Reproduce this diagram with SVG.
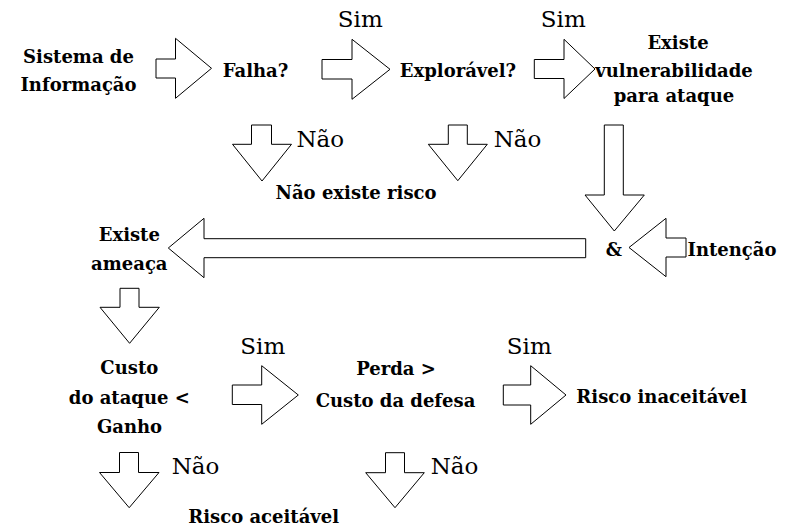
<svg xmlns="http://www.w3.org/2000/svg" width="798" height="532" viewBox="0 0 798 532">
<style>
.n{font-family:"DejaVu Serif","Liberation Serif",serif;font-weight:bold;font-size:18px;fill:#000;text-anchor:middle}
.l{font-family:"DejaVu Serif","Liberation Serif",serif;font-size:23px;fill:#000;text-anchor:middle}
.a{fill:#fff;stroke:#000;stroke-width:1;stroke-linejoin:miter}
</style>
<rect width="798" height="532" fill="#fff"/>
<g id="connectors">
<polygon class="a" points="156,59 175.5,59 175.5,38.3 211.5,68.3 175.5,98.3 175.5,78 156,78"/>
<polygon class="a" points="322,59.5 352,59.5 352,39.3 390,69.3 352,99.3 352,79 322,79"/>
<polygon class="a" points="534.3,59.5 564,59.5 564,39.3 595,69 564,98.5 564,78.5 534.3,78.5"/>
<polygon class="a" points="251.5,125 271.5,125 271.5,144.3 291.5,144.3 262,181 232.5,144.3 251.5,144.3"/>
<polygon class="a" points="448.3,125 467.3,125 467.3,144.3 487.3,144.3 457.8,180.7 428.3,144.3 448.3,144.3"/>
<polygon class="a" points="604.3,125 623.3,125 623.3,195 644.3,195 614.3,231 585,195 604.3,195"/>
<polygon class="a" points="585.7,238.7 204,238.7 204,218.3 168.3,248 204,277.7 204,257.7 585.7,257.7"/>
<polygon class="a" points="686,238 666,238 666,218.3 629,247.5 666,276.7 666,257 686,257"/>
<polygon class="a" points="120,288.3 139,288.3 139,307.3 159.3,307.3 129.6,343.3 100,307.3 120,307.3"/>
<polygon class="a" points="232.3,385 261.7,385 261.7,365.7 298.3,395 261.7,424.3 261.7,404.5 232.3,404.5"/>
<polygon class="a" points="503.3,385 530.7,385 530.7,365.7 566,395 530.7,424.3 530.7,405 503.3,405"/>
<polygon class="a" points="119.5,452.5 138.5,452.5 138.5,472.5 159,472.5 129.2,507.7 99.5,472.5 119.5,472.5"/>
<polygon class="a" points="385.5,452.7 404.5,452.7 404.5,472.7 424.3,472.7 395,507.7 365.7,472.7 385.5,472.7"/>
<text class="l" x="360.3" y="27">Sim</text>
<text class="l" x="563.3" y="27">Sim</text>
<text class="l" x="320.3" y="147">Não</text>
<text class="l" x="517.5" y="147">Não</text>
<text class="l" x="262.8" y="354">Sim</text>
<text class="l" x="529.3" y="354">Sim</text>
<text class="l" x="195.5" y="474">Não</text>
<text class="l" x="454.5" y="474">Não</text>
</g>
<g id="sistema"><text class="n" x="78.5" y="63">Sistema de</text><text class="n" x="78.5" y="91">Informação</text></g>
<g id="falha"><text class="n" x="255.5" y="77">Falha?</text></g>
<g id="exploravel"><text class="n" x="458" y="77">Explorável?</text></g>
<g id="vulnerabilidade"><text class="n" x="678" y="48.5">Existe</text><text class="n" x="674" y="77">vulnerabilidade</text><text class="n" x="674" y="102">para ataque</text></g>
<g id="naoexisterisco"><text class="n" x="356" y="199">Não existe risco</text></g>
<g id="and"><text class="n" x="614" y="255.5">&amp;</text></g>
<g id="intencao"><text class="n" x="732" y="255.5">Intenção</text></g>
<g id="ameaca"><text class="n" x="129.3" y="241">Existe</text><text class="n" x="129.3" y="270">ameaça</text></g>
<g id="custo"><text class="n" x="129.3" y="374">Custo</text><text class="n" x="129.3" y="403.5">do ataque &lt;</text><text class="n" x="129.5" y="433">Ganho</text></g>
<g id="perda"><text class="n" x="396" y="375">Perda &gt;</text><text class="n" x="395.5" y="407">Custo da defesa</text></g>
<g id="inaceitavel"><text class="n" x="661.7" y="402.7">Risco inaceitável</text></g>
<g id="aceitavel"><text class="n" x="263.7" y="523">Risco aceitável</text></g>
</svg>
